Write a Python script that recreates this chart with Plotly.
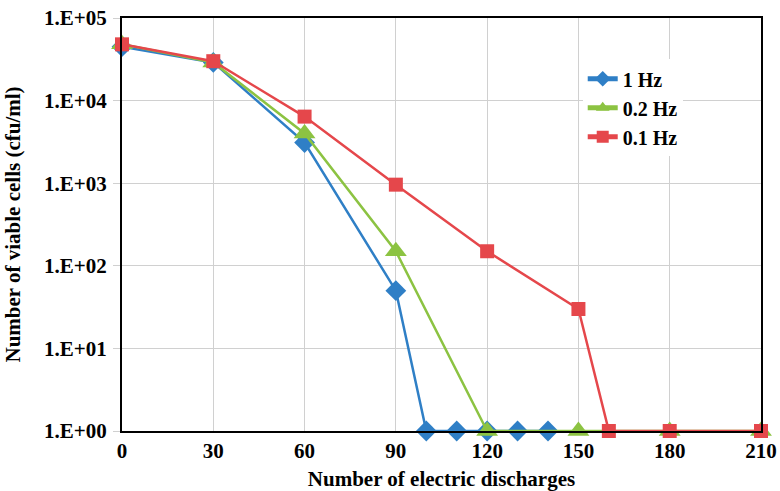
import plotly.graph_objects as go

x_1hz = [0, 30, 60, 90, 100, 110, 120, 130, 140]
y_1hz = [45000, 29000, 3100, 50, 1, 1, 1, 1, 1]
x_02hz = [0, 30, 60, 90, 120, 150, 180, 210]
y_02hz = [48000, 29000, 4000, 150, 1, 1, 1, 1]
x_01hz = [0, 30, 60, 90, 120, 150, 160, 180, 210]
y_01hz = [48000, 30000, 6400, 960, 150, 30, 1, 1, 1]

x_ticks = [0, 30, 60, 90, 120, 150, 180, 210]
y_ticks = [1, 10, 100, 1000, 10000, 100000]
y_ticktext = ["1.E+00", "1.E+01", "1.E+02", "1.E+03", "1.E+04", "1.E+05"]

font_family = "Liberation Serif"
grid = "#d0d0d0"

fig = go.Figure()
fig.add_trace(go.Scatter(x=x_1hz, y=y_1hz, name="1 Hz", mode="lines+markers",
                         line=dict(color="#2F7FC6", width=2.5),
                         marker=dict(symbol="diamond", size=16, color="#2F7FC6"),
                         cliponaxis=False))
fig.add_trace(go.Scatter(x=x_02hz, y=y_02hz, name="0.2 Hz", mode="lines+markers",
                         line=dict(color="#8CC342", width=2.5),
                         marker=dict(symbol="triangle-up", size=19, color="#8CC342"),
                         cliponaxis=False))
fig.add_trace(go.Scatter(x=x_01hz, y=y_01hz, name="0.1 Hz", mode="lines+markers",
                         line=dict(color="#E5474B", width=2.5),
                         marker=dict(symbol="square", size=14, color="#E5474B"),
                         cliponaxis=False))

fig.update_layout(
    width=780, height=491,
    margin=dict(l=122, r=19, t=18, b=60),
    plot_bgcolor="white", paper_bgcolor="white",
    font=dict(family=font_family, size=20, color="black"),
    legend=dict(x=0.721, y=0.90, xanchor="left", yanchor="top",
                bgcolor="white", borderwidth=0,
                font=dict(family=font_family, size=20, color="black", weight="bold"),
                itemsizing="constant", tracegroupgap=0),
    showlegend=True,
)
fig.update_xaxes(range=[0, 210], tickvals=x_ticks, showgrid=True, gridcolor=grid,
                 gridwidth=1, showline=True, linecolor="black", linewidth=2, mirror=True,
                 ticks="", zeroline=False, automargin=False, ticklabelstandoff=0,
                 tickfont=dict(family=font_family, size=21, color="black", weight="bold"),
                 title=dict(text="Number of electric discharges", standoff=10,
                            font=dict(family=font_family, size=21, color="black", weight="bold")))
fig.update_yaxes(type="log", range=[0, 5], tickvals=y_ticks, ticktext=y_ticktext,
                 showgrid=True, gridcolor=grid, gridwidth=1,
                 showline=True, linecolor="black", linewidth=2, mirror=True,
                 ticks="outside", ticklen=7, tickcolor=grid, zeroline=False,
                 automargin=False, ticklabelstandoff=2,
                 tickfont=dict(family=font_family, size=21, color="black", weight="bold"),
                 title=dict(text="Number of viable cells (cfu/ml)", standoff=18,
                            font=dict(family=font_family, size=21, color="black", weight="bold")))

fig.write_html("out.html")
